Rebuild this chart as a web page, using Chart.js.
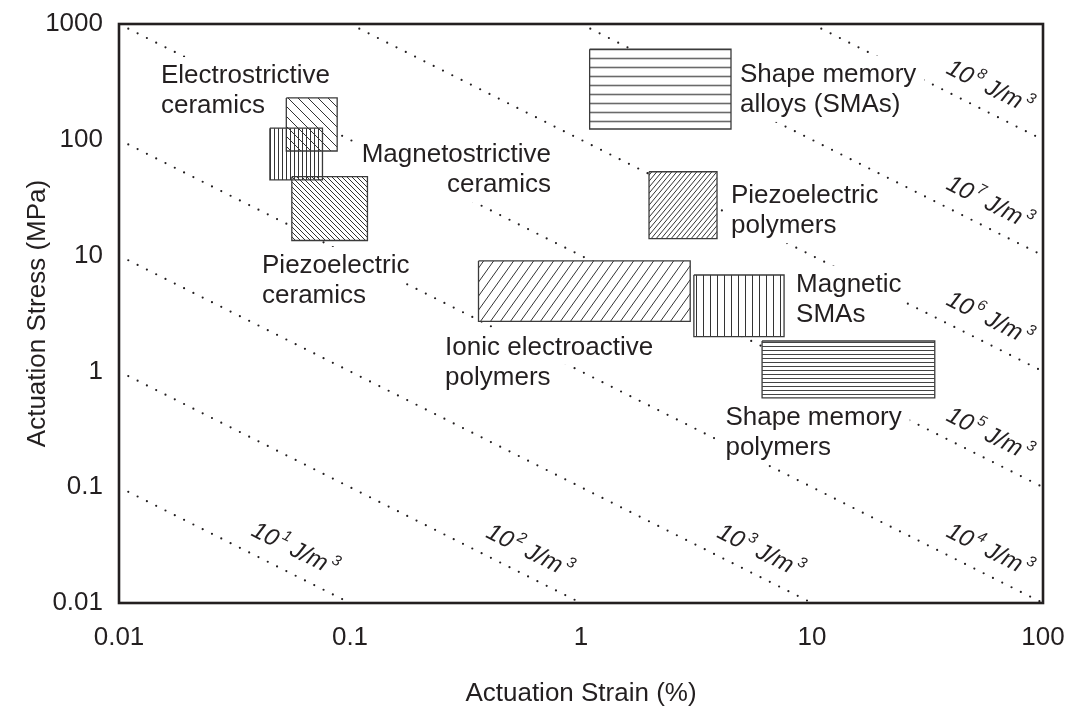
<!DOCTYPE html>
<html>
<head>
<meta charset="utf-8">
<script src="https://cdn.jsdelivr.net/npm/chart.js@4.4.1/dist/chart.umd.min.js"></script>
<style>
  html, body { margin: 0; padding: 0; background: #ffffff; }
  #wrap { width: 1065px; height: 709px; position: relative; }
</style>
</head>
<body>
<div id="wrap"><canvas id="c" width="1065" height="709"></canvas></div>
<script>
// ---------------- DATA ----------------
const xTickValues = [0.01, 0.1, 1, 10, 100];
const xTickLabels = ['0.01', '0.1', '1', '10', '100'];
const yTickValues = [0.01, 0.1, 1, 10, 100, 1000];
const yTickLabels = ['0.01', '0.1', '1', '10', '100', '1000'];

// actuator classes (strain in %, stress in MPa)
const materialNames = [
  'Electrostrictive ceramics', 'Piezoelectric ceramics', 'Magnetostrictive ceramics',
  'Shape memory alloys (SMAs)', 'Piezoelectric polymers', 'Ionic electroactive polymers',
  'Magnetic SMAs', 'Shape memory polymers'
];
const strainLow  = [0.053, 0.056, 0.045, 1.09, 1.97, 0.36, 3.08, 6.08];
const strainHigh = [0.088, 0.119, 0.076, 4.46, 3.88, 2.97, 7.57, 34.0];
const stressLow  = [80, 13.5, 45, 124, 14, 2.7, 2.0, 0.59];
const stressHigh = [230, 48, 126, 605, 53, 9.0, 6.8, 1.83];

// label text of each class
const labelLines = [
  ['Electrostrictive', 'ceramics'], ['Piezoelectric', 'ceramics'], ['Magnetostrictive', 'ceramics'],
  ['Shape memory', 'alloys (SMAs)'], ['Piezoelectric', 'polymers'], ['Ionic electroactive', 'polymers'],
  ['Magnetic', 'SMAs'], ['Shape memory', 'polymers']
];

// energy density lines (J/m^3 exponents) and their end points
const energyExponents   = [1, 2, 3, 4, 5, 6, 7, 8];
const energyStartStrain = [0.01, 0.01, 0.01, 0.01, 0.01, 0.1, 1, 10];
const energyStartStress = [0.1, 1, 10, 100, 1000, 1000, 1000, 1000];
const energyEndStrain   = [0.1, 1, 10, 100, 100, 100, 100, 100];
const energyEndStress   = [0.01, 0.01, 0.01, 0.01, 0.1, 1, 10, 100];

// ---------------- LAYOUT / STYLE (annotation placement) ----------------
const labelAnchorStrain = [0.0152, 0.0416, 0.741, 4.88, 4.46, 0.258, 8.53, 4.22];
const labelAnchorStress = [309, 7.08, 64.3, 316, 28.3, 1.39, 4.88, 0.344];
const labelAlign = ['left', 'left', 'right', 'left', 'left', 'left', 'left', 'left'];
const labelBlockBg = [true, false, true, false, false, false, false, false];
const energyLabelStrain = [0.052, 0.54, 5.4, 53, 53, 53, 53, 53];

const FONT = '"Liberation Sans", Arial, Helvetica, sans-serif';
const INK = '#231f20';
const LABEL_SIZE = 26;
const LINE_GAP = 30;
const ENERGY_OFFSET = 24;

const hatchStyles = [
  { kind: '\\', period: 10, angle: 45, lw: 1, color: '#333', opaque: true },
  { kind: '\\', period: 5,  angle: 45, lw: 1, color: '#333', opaque: true },
  { kind: 'v',  period: 4,  lw: 1, color: '#333', opaque: false },
  { kind: 'h',  period: 9,  lw: 1.6, color: '#6a6a6a', opaque: true },
  { kind: '/',  period: 5,  angle: 50, lw: 1, color: '#333', opaque: true },
  { kind: '/',  period: 10, angle: 55, lw: 1, color: '#333', opaque: true },
  { kind: 'v',  period: 7,  lw: 1, color: '#333', opaque: true },
  { kind: 'h',  period: 4,  lw: 1, color: '#444', opaque: true }
];

function makePattern(st) {
  const c = document.createElement('canvas');
  let w, h;
  if (st.kind === 'h') { w = 8; h = st.period; }
  else if (st.kind === 'v') { w = st.period; h = 8; }
  else { w = st.period; h = Math.max(2, Math.round(st.period * Math.tan(st.angle * Math.PI / 180))); }
  c.width = w; c.height = h;
  const g = c.getContext('2d');
  if (st.opaque) { g.fillStyle = '#ffffff'; g.fillRect(0, 0, w, h); }
  g.strokeStyle = st.color;
  g.lineWidth = st.lw;
  g.beginPath();
  if (st.kind === 'h') { const y = Math.floor(h / 2) + 0.5; g.moveTo(0, y); g.lineTo(w, y); }
  else if (st.kind === 'v') { const x = Math.floor(w / 2) + 0.5; g.moveTo(x, 0); g.lineTo(x, h); }
  else if (st.kind === '/') { for (const o of [-w, 0, w]) { g.moveTo(o, h); g.lineTo(o + w, 0); } }
  else { for (const o of [-w, 0, w]) { g.moveTo(o, 0); g.lineTo(o + w, h); } }
  g.stroke();
  return g.createPattern(c, 'repeat');
}

// ---------------- DATASETS ----------------
const datasets = [];
energyExponents.forEach((e, i) => {
  datasets.push({
    kind: 'energy',
    data: [{ x: energyStartStrain[i], y: energyStartStress[i] }, { x: energyEndStrain[i], y: energyEndStress[i] }],
    borderColor: INK, borderWidth: 2.2, borderDash: [0, 10.4], borderCapStyle: 'round',
    pointRadius: 0, fill: false, tension: 0, order: 1000 + i
  });
});
materialNames.forEach((m, i) => {
  datasets.push({
    kind: 'boxfill', label: m,
    data: [{ x: strainLow[i], y: stressHigh[i] }, { x: strainHigh[i], y: stressHigh[i] }],
    borderWidth: 0, borderColor: 'rgba(0,0,0,0)', backgroundColor: makePattern(hatchStyles[i]),
    fill: { value: stressLow[i] }, pointRadius: 0, tension: 0, order: 500 - 2 * i
  });
  datasets.push({
    kind: 'boxline', label: m,
    data: [
      { x: strainLow[i], y: stressHigh[i] }, { x: strainHigh[i], y: stressHigh[i] },
      { x: strainHigh[i], y: stressLow[i] }, { x: strainLow[i], y: stressLow[i] },
      { x: strainLow[i], y: stressHigh[i] }
    ],
    borderColor: '#3b3b3b', borderWidth: 1.3, fill: false, pointRadius: 0, tension: 0,
    order: 499 - 2 * i
  });
});

// ---------------- OVERLAY PLUGIN ----------------
function labelFont() { return LABEL_SIZE + 'px ' + FONT; }

function labelBoxes(chart) {
  const ctx = chart.ctx, xs = chart.scales.x, ys = chart.scales.y;
  const out = [];
  ctx.save();
  ctx.font = labelFont();
  labelLines.forEach((lines, i) => {
    const ax = xs.getPixelForValue(labelAnchorStrain[i]);
    const ay = ys.getPixelForValue(labelAnchorStress[i]);
    const widths = lines.map(t => ctx.measureText(t).width);
    const maxW = Math.max(...widths);
    lines.forEach((t, k) => {
      const w = widths[k];
      const base = ay + k * LINE_GAP;
      const left = labelAlign[i] === 'right' ? ax - w : ax;
      const bw = labelBlockBg[i] ? maxW : w;
      const bleft = labelAlign[i] === 'right' ? ax - bw : ax;
      out.push({ t, left, base, w, bleft, bw });
    });
  });
  ctx.restore();
  return out;
}

let energyDrawn = 0;
const overlay = {
  id: 'overlay',
  beforeDatasetsDraw() { energyDrawn = 0; },
  afterDatasetDraw(chart, args) {
    const ds = chart.data.datasets[args.index];
    if (ds.kind === 'energy') {
      energyDrawn++;
      if (energyDrawn === energyExponents.length) {
        const ctx = chart.ctx;
        ctx.save();
        ctx.fillStyle = '#ffffff';
        labelBoxes(chart).forEach(b => ctx.fillRect(b.bleft - 8, b.base - 26, b.bw + 16, 36));
        ctx.restore();
      }
    }
  },
  afterDatasetsDraw(chart) {
    const ctx = chart.ctx, a = chart.chartArea, xs = chart.scales.x, ys = chart.scales.y;
    ctx.save();
    // plot frame
    ctx.strokeStyle = INK; ctx.lineWidth = 2.6;
    ctx.strokeRect(a.left, a.top, a.right - a.left, a.bottom - a.top);
    // class labels
    ctx.fillStyle = INK;
    ctx.font = labelFont();
    ctx.textBaseline = 'alphabetic';
    ctx.textAlign = 'left';
    labelBoxes(chart).forEach(b => ctx.fillText(b.t, b.left, b.base));
    // energy density labels
    const big = 'italic 24px ' + FONT, small = 'italic 15px ' + FONT;
    energyExponents.forEach((e, i) => {
      const x1 = xs.getPixelForValue(energyStartStrain[i]), y1 = ys.getPixelForValue(energyStartStress[i]);
      const x2 = xs.getPixelForValue(energyEndStrain[i]), y2 = ys.getPixelForValue(energyEndStress[i]);
      const px = xs.getPixelForValue(energyLabelStrain[i]);
      const py = y1 + (px - x1) * (y2 - y1) / (x2 - x1);
      const ang = Math.atan2(y2 - y1, x2 - x1);
      const parts = [
        { t: '10', f: big, dy: 0, gap: 3 },
        { t: String(e), f: small, dy: -11, gap: 5 },
        { t: 'J/m', f: big, dy: 0, gap: 3 },
        { t: '3', f: small, dy: -11, gap: 0 }
      ];
      let W = 0;
      parts.forEach(p => { ctx.font = p.f; p.w = ctx.measureText(p.t).width; W += p.w + p.gap; });
      ctx.save();
      ctx.translate(px, py);
      ctx.rotate(ang);
      ctx.textAlign = 'left';
      ctx.textBaseline = 'alphabetic';
      let cx = -W / 2;
      const base = -ENERGY_OFFSET + 8;
      parts.forEach(p => { ctx.font = p.f; ctx.fillText(p.t, cx, base + p.dy); cx += p.w + p.gap; });
      ctx.restore();
    });
    ctx.restore();
  }
};

// ---------------- CHART ----------------
new Chart(document.getElementById('c').getContext('2d'), {
  type: 'line',
  data: { datasets },
  options: {
    responsive: false,
    animation: false,
    events: [],
    layout: { padding: { top: 24, right: 22, left: 0, bottom: 0 } },
    plugins: { legend: { display: false }, tooltip: { enabled: false } },
    scales: {
      x: {
        type: 'logarithmic', min: 0.01, max: 100, position: 'bottom',
        afterBuildTicks: s => { s.ticks = xTickValues.map(v => ({ value: v })); },
        afterFit: s => { s.height = 106; s.paddingLeft = 0; s.paddingRight = 0; s.paddingTop = 0; s.paddingBottom = 0; },
        ticks: {
          autoSkip: false, maxRotation: 0, padding: 19, color: INK,
          font: { family: FONT, size: 26 },
          callback: (v, idx) => xTickLabels[idx]
        },
        grid: { display: false, drawTicks: false },
        border: { display: false },
        title: { display: true, text: 'Actuation Strain (%)', color: INK,
                 font: { family: FONT, size: 26 }, padding: { top: 0, bottom: 0 } }
      },
      y: {
        type: 'logarithmic', min: 0.01, max: 1000, position: 'left',
        afterBuildTicks: s => { s.ticks = yTickValues.map(v => ({ value: v })); },
        afterFit: s => { s.width = 119; s.paddingLeft = 0; s.paddingRight = 0; s.paddingTop = 0; s.paddingBottom = 0; },
        ticks: {
          autoSkip: false, padding: 16, color: INK,
          font: { family: FONT, size: 26 },
          callback: (v, idx) => yTickLabels[idx]
        },
        grid: { display: false, drawTicks: false },
        border: { display: false },
        title: { display: true, text: 'Actuation Stress (MPa)', color: INK,
                 font: { family: FONT, size: 26 }, padding: { top: 22, bottom: 0 } }
      }
    }
  },
  plugins: [overlay]
});
</script>
</body>
</html>
